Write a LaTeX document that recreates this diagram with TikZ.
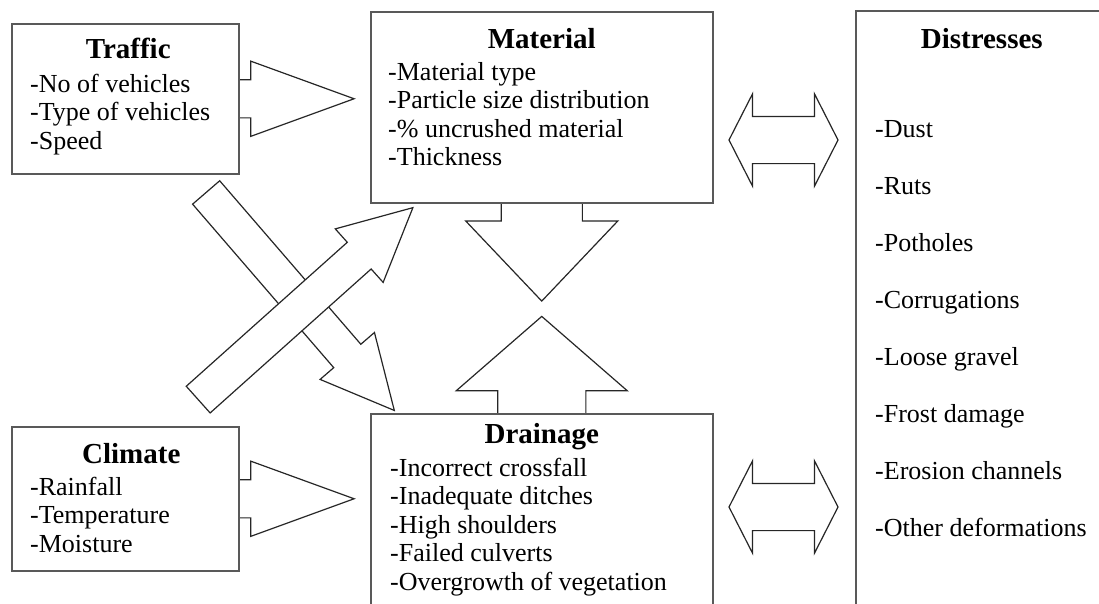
\documentclass[tikz,border=0pt]{standalone}
\usepackage{fontspec}
\setmainfont{Liberation Serif}
\usetikzlibrary{shapes.arrows, positioning, calc, backgrounds}

\begin{document}
\begin{tikzpicture}[
        x=1pt, y=-1pt,
        box/.style={rectangle, draw=black!65, line width=1.5pt, fill=white, anchor=north west, inner sep=0pt},
        head/.style={font=\fontsize{29}{32}\selectfont\bfseries, anchor=base, inner sep=0pt},
        list/.style={font=\fontsize{26}{28.5}\selectfont, align=left, anchor=base west, inner sep=0pt},
        fat/.style={single arrow, draw=black!85, line width=1.2pt, fill=white, inner sep=0pt, minimum width=0pt, anchor=tail},
        hflow/.style={fat, inner ysep=18.5pt, single arrow head extend=18.5pt, single arrow tip angle=40, minimum height=129pt},
        diag/.style={fat, inner ysep=17.3pt, single arrow head extend=18pt, single arrow tip angle=53, minimum height=288pt},
        twin/.style={double arrow, draw=black!85, line width=1.2pt, fill=white, inner xsep=0pt, inner ysep=23pt, minimum width=0pt, minimum height=109pt, double arrow head extend=22.5pt, double arrow tip angle=126}
    ]
    \useasboundingbox (0,0) rectangle (1099,603);

    % Nodes
    \node (traffic) [box, minimum width=227pt, minimum height=150pt] at (11,23) {};
    \node (material) [box, minimum width=342pt, minimum height=191pt] at (370,11) {};
    \node (drainage) [box, minimum width=342pt, minimum height=210pt] at (370,413) {};
    \node (climate) [box, minimum width=227pt, minimum height=144pt] at (11,426) {};
    \node (distress) [box, minimum width=252pt, minimum height=613pt] at (855,10) {};

    % Texts (lists sit on the baseline of their last line)
    \node (traffic-h) [head] at ($(traffic.north)+(3,35)$) {Traffic};
    \node (traffic-l) [list] at ($(traffic.north west)+(19,126)$) {-No of vehicles\\-Type of vehicles\\-Speed};
    \node (material-h) [head] at ($(material.north)+(0,37)$) {Material};
    \node (material-l) [list] at ($(material.north west)+(18,154.5)$) {-Material type\\-Particle size distribution\\-\% uncrushed material\\-Thickness};
    \node (drainage-h) [head] at ($(drainage.north)+(0,30)$) {Drainage};
    \node (drainage-l) [list] at ($(drainage.north west)+(20,177)$) {-Incorrect crossfall\\-Inadequate ditches\\-High shoulders\\-Failed culverts\\-Overgrowth of vegetation};
    \node (climate-h) [head] at ($(climate.north)+(6,37)$) {Climate};
    \node (climate-l) [list] at ($(climate.north west)+(19,126)$) {-Rainfall\\-Temperature\\-Moisture};
    \node (distress-h) [head] at ($(distress.north)+(0,38)$) {Distresses};
    \node (distress-l) [list, font=\fontsize{26}{57}\selectfont] at ($(distress.north west)+(20,526)$) {-Dust\\-Ruts\\-Potholes\\-Corrugations\\-Loose gravel\\-Frost damage\\-Erosion channels\\-Other deformations};

    % Connections
    \begin{pgfonlayer}{background}
    \node (traf2mat) [hflow] at ($(traffic.east)+(-15,0)$) {};
    \node (clim2drain) [hflow] at ($(climate.east)+(-15,0)$) {};
    \node (mat2drain) [fat, inner ysep=40pt, single arrow head extend=35.5pt, single arrow tip angle=87, minimum height=109pt, rotate=-90] at ($(material.south)+(0,-12)$) {};
    \node (drain2mat) [fat, inner ysep=43.5pt, single arrow head extend=41.5pt, single arrow tip angle=98, minimum height=108pt, rotate=90] at ($(drainage.north)+(0,12)$) {};
    \node (traf2drain) [diag, rotate=-49.2] at ($(traffic.south)+(80.5,17.5)$) {};
    \node (clim2mat) [diag, rotate=41.8] at ($(climate.north)+(72.5,-26)$) {};
    \node (mat2dist) [twin] at (783.5,140) {};
    \node (drain2dist) [twin] at (783.5,507) {};
    \end{pgfonlayer}

\end{tikzpicture}
\end{document}
